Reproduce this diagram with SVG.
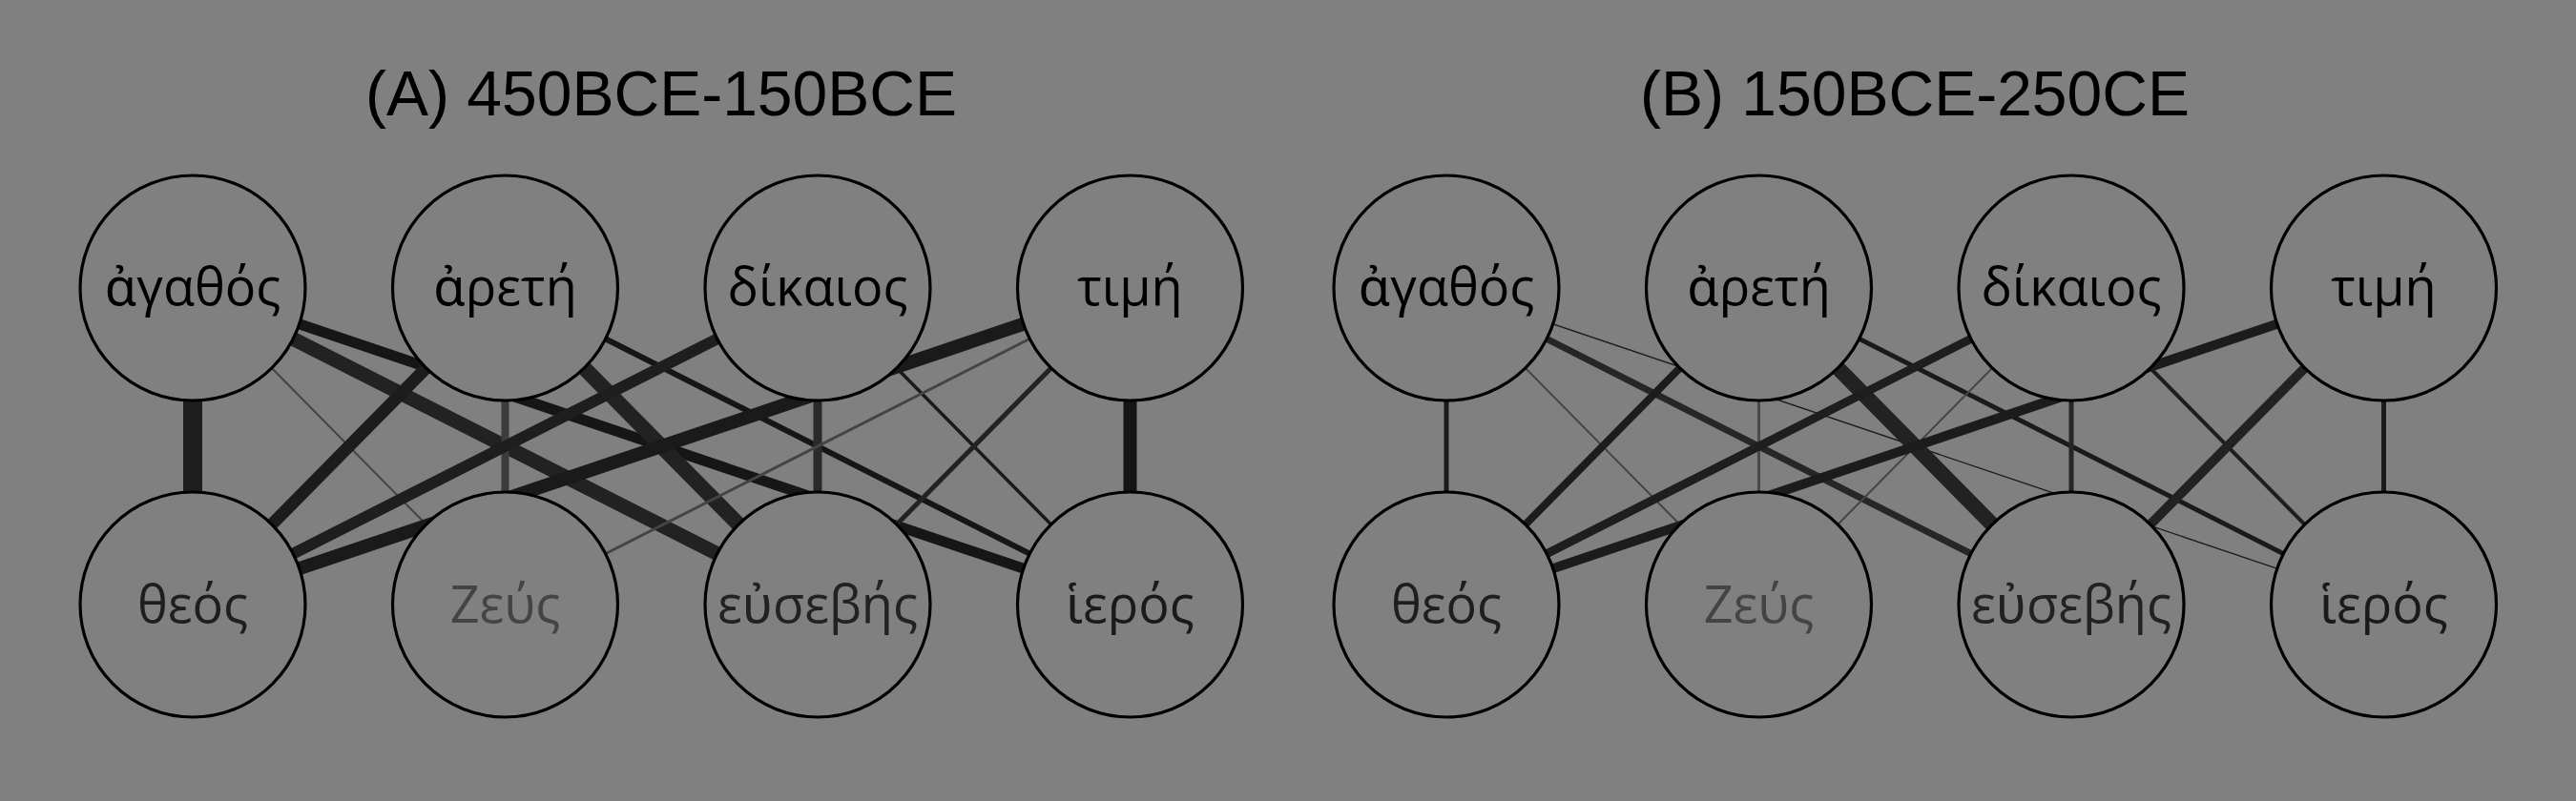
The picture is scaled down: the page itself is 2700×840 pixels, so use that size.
<svg xmlns="http://www.w3.org/2000/svg" width="2700" height="840" viewBox="0 0 2700 840">
<style>
.title{font-family:"Liberation Sans",Arial,sans-serif;font-size:66px;fill:#000;text-anchor:middle}
.node circle{fill:#808080;stroke:#000;stroke-width:3.2}
.node text{font-family:"Open Sans","Noto Sans",sans-serif;font-size:54px;text-anchor:middle}
.edges line{stroke-linecap:butt}
.k0{fill:#000}
.k1{fill:#1e1e1e}
.k2{fill:#444}
.k3{fill:#222}
.k4{fill:#1a1a1a}
</style>
<rect width="2700" height="840" fill="#808080"/>
<text class="title" x="693" y="121">(A) 450BCE-150BCE</text>
<text class="title" x="2007" y="121">(B) 150BCE-250CE</text>

<g id="edges-A" class="edges">
<line x1="202" y1="302" x2="202" y2="634" stroke="#1e1e1e" stroke-width="20"/>
<line x1="202" y1="302" x2="529.5" y2="634" stroke="#444" stroke-width="2"/>
<line x1="202" y1="302" x2="857" y2="634" stroke="#222" stroke-width="15"/>
<line x1="202" y1="302" x2="1184.5" y2="634" stroke="#161616" stroke-width="11"/>
<line x1="529.5" y1="302" x2="202" y2="634" stroke="#1c1c1c" stroke-width="13"/>
<line x1="529.5" y1="302" x2="529.5" y2="634" stroke="#3c3c3c" stroke-width="8"/>
<line x1="529.5" y1="302" x2="857" y2="634" stroke="#222" stroke-width="16"/>
<line x1="529.5" y1="302" x2="1184.5" y2="634" stroke="#161616" stroke-width="6"/>
<line x1="857" y1="302" x2="202" y2="634" stroke="#1e1e1e" stroke-width="12"/>
<line x1="857" y1="302" x2="857" y2="634" stroke="#2a2a2a" stroke-width="9"/>
<line x1="857" y1="302" x2="1184.5" y2="634" stroke="#1a1a1a" stroke-width="3.5"/>
<line x1="1184.5" y1="302" x2="202" y2="634" stroke="#1a1a1a" stroke-width="14"/>
<line x1="1184.5" y1="302" x2="529.5" y2="634" stroke="#444" stroke-width="3"/>
<line x1="1184.5" y1="302" x2="857" y2="634" stroke="#222" stroke-width="5"/>
<line x1="1184.5" y1="302" x2="1184.5" y2="634" stroke="#151515" stroke-width="14"/>
</g>

<g id="edges-B" class="edges">
<line x1="1516" y1="302" x2="1516" y2="634" stroke="#1a1a1a" stroke-width="5"/>
<line x1="1516" y1="302" x2="1843.5" y2="634" stroke="#444" stroke-width="2"/>
<line x1="1516" y1="302" x2="2171" y2="634" stroke="#262626" stroke-width="7"/>
<line x1="1516" y1="302" x2="2498.5" y2="634" stroke="#1a1a1a" stroke-width="1.3"/>
<line x1="1843.5" y1="302" x2="1516" y2="634" stroke="#1c1c1c" stroke-width="8"/>
<line x1="1843.5" y1="302" x2="1843.5" y2="634" stroke="#4a4a4a" stroke-width="3"/>
<line x1="1843.5" y1="302" x2="2171" y2="634" stroke="#222" stroke-width="16"/>
<line x1="1843.5" y1="302" x2="2498.5" y2="634" stroke="#1a1a1a" stroke-width="5"/>
<line x1="2171" y1="302" x2="1516" y2="634" stroke="#1e1e1e" stroke-width="9"/>
<line x1="2171" y1="302" x2="1843.5" y2="634" stroke="#444" stroke-width="2"/>
<line x1="2171" y1="302" x2="2171" y2="634" stroke="#262626" stroke-width="5"/>
<line x1="2171" y1="302" x2="2498.5" y2="634" stroke="#1e1e1e" stroke-width="4"/>
<line x1="2498.5" y1="302" x2="1516" y2="634" stroke="#1c1c1c" stroke-width="10"/>
<line x1="2498.5" y1="302" x2="2171" y2="634" stroke="#222" stroke-width="10"/>
<line x1="2498.5" y1="302" x2="2498.5" y2="634" stroke="#1a1a1a" stroke-width="5"/>
</g>

<g id="A-agathos" class="node"><circle cx="202" cy="302" r="118"/><text class="k0" x="202" y="320">ἀγαθός</text></g>
<g id="A-arete" class="node"><circle cx="529.5" cy="302" r="118"/><text class="k0" x="529.5" y="320">ἀρετή</text></g>
<g id="A-dikaios" class="node"><circle cx="857" cy="302" r="118"/><text class="k0" x="857" y="320">δίκαιος</text></g>
<g id="A-time" class="node"><circle cx="1184.5" cy="302" r="118"/><text class="k0" x="1184.5" y="320">τιμή</text></g>
<g id="A-theos" class="node"><circle cx="202" cy="634" r="118"/><text class="k1" x="202" y="653">θεός</text></g>
<g id="A-zeus" class="node"><circle cx="529.5" cy="634" r="118"/><text class="k2" x="529.5" y="653">Ζεύς</text></g>
<g id="A-eusebes" class="node"><circle cx="857" cy="634" r="118"/><text class="k3" x="857" y="653">εὐσεβής</text></g>
<g id="A-hieros" class="node"><circle cx="1184.5" cy="634" r="118"/><text class="k4" x="1184.5" y="653">ἱερός</text></g>

<g id="B-agathos" class="node"><circle cx="1516" cy="302" r="118"/><text class="k0" x="1516" y="320">ἀγαθός</text></g>
<g id="B-arete" class="node"><circle cx="1843.5" cy="302" r="118"/><text class="k0" x="1843.5" y="320">ἀρετή</text></g>
<g id="B-dikaios" class="node"><circle cx="2171" cy="302" r="118"/><text class="k0" x="2171" y="320">δίκαιος</text></g>
<g id="B-time" class="node"><circle cx="2498.5" cy="302" r="118"/><text class="k0" x="2498.5" y="320">τιμή</text></g>
<g id="B-theos" class="node"><circle cx="1516" cy="634" r="118"/><text class="k1" x="1516" y="653">θεός</text></g>
<g id="B-zeus" class="node"><circle cx="1843.5" cy="634" r="118"/><text class="k2" x="1843.5" y="653">Ζεύς</text></g>
<g id="B-eusebes" class="node"><circle cx="2171" cy="634" r="118"/><text class="k3" x="2171" y="653">εὐσεβής</text></g>
<g id="B-hieros" class="node"><circle cx="2498.5" cy="634" r="118"/><text class="k4" x="2498.5" y="653">ἱερός</text></g>
</svg>
